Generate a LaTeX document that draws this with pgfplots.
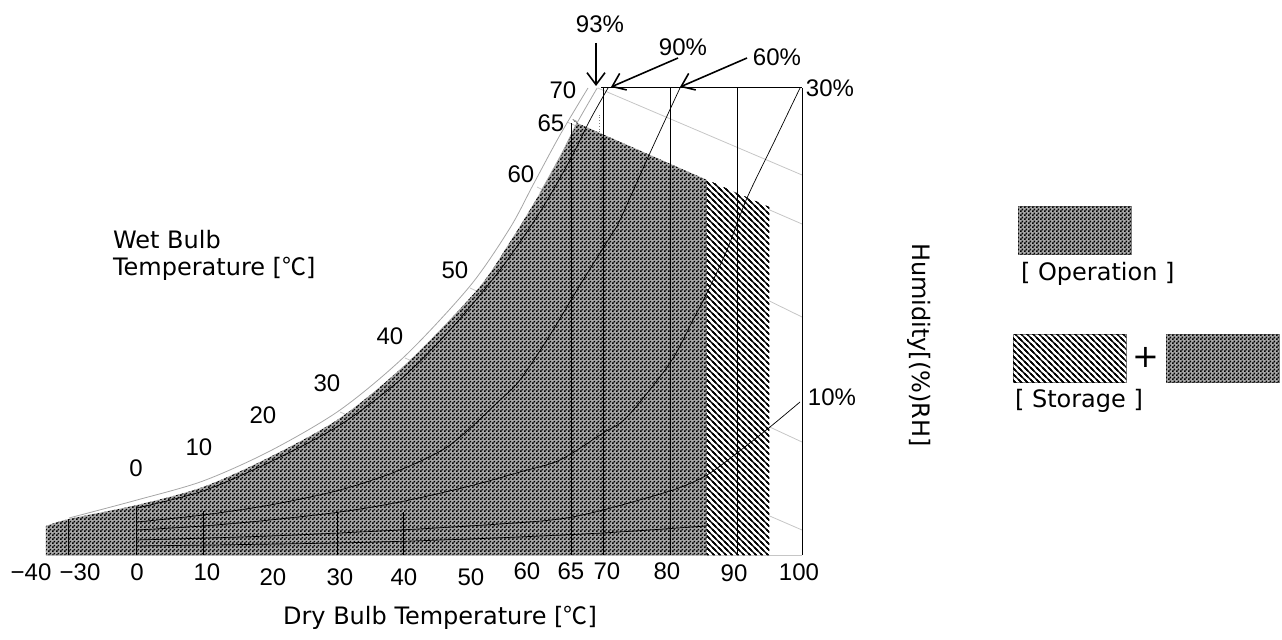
\documentclass[border=0pt]{standalone}
\usepackage{fontspec}
\setmainfont{DejaVu Sans}
\newfontfamily\numfont{Liberation Sans}
\newfontfamily\cjk{Noto Sans CJK KR}
\usepackage{pgfplots}
\pgfplotsset{compat=1.18}
\usetikzlibrary{patterns,arrows.meta}

% fine checkerboard for the operation area
\pgfdeclarepatternformonly{checker}{\pgfpointorigin}{\pgfqpoint{2pt}{2pt}}{\pgfqpoint{2pt}{2pt}}{%
  \pgfpathrectangle{\pgfpointorigin}{\pgfqpoint{1pt}{1pt}}%
  \pgfpathrectangle{\pgfqpoint{1pt}{1pt}}{\pgfqpoint{1pt}{1pt}}%
  \pgfusepath{fill}}
% dense diagonal hatch for the storage area
\pgfdeclarepatternformonly{hatchnw}{\pgfqpoint{-1pt}{-1pt}}{\pgfqpoint{4pt}{4pt}}{\pgfqpoint{3pt}{3pt}}{%
  \pgfsetlinewidth{0.6pt}%
  \pgfpathmoveto{\pgfqpoint{-1pt}{4pt}}\pgfpathlineto{\pgfqpoint{4pt}{-1pt}}%
  \pgfpathmoveto{\pgfqpoint{-1pt}{1pt}}\pgfpathlineto{\pgfqpoint{1pt}{-1pt}}%
  \pgfpathmoveto{\pgfqpoint{2pt}{4pt}}\pgfpathlineto{\pgfqpoint{4pt}{2pt}}%
  \pgfusepath{stroke}}
\colorlet{opbase}{black!34}

\begin{document}
\begin{tikzpicture}
\useasboundingbox (0,0) rectangle (641pt,319.5pt);
% x: dry bulb (compressed below 0), y: chart height
\begin{axis}[
  at={(23pt,42pt)}, anchor=south west,
  scale only axis, width=378pt, height=233.5pt,
  xmin=-13.684, xmax=100, ymin=0, ymax=467,
  axis line style={draw=none}, xtick=\empty, ytick=\empty,
  clip=false,
]
% wet bulb lines
\addplot[gray!45, line width=0.4pt] coordinates {(69.3,467) (100,380)};
\addplot[gray!45, line width=0.4pt] coordinates {(64.66,433) (100,331)};
\addplot[gray!45, line width=0.4pt] coordinates {(60.15,368) (100,238)};
\addplot[gray!45, line width=0.4pt] coordinates {(50.08,267) (100,113)};
\addplot[gray!45, line width=0.4pt] coordinates {(40.30,197) (100,25)};
\addplot[gray!45, line width=0.4pt] coordinates {(30.53,143) (80,0)};
\addplot[gray!45, line width=0.4pt] coordinates {(-13.684,0) (100,0)};

% operation area
\addplot[draw=none, fill=opbase, postaction={pattern=checker}, smooth, tension=0.5] coordinates {
  (-13.684,29) (-10.23,36) (0,50) (9.925,68) (20,98) (30.53,137) (40.60,192)
  (51.13,265) (56.09,313) (60.60,362) (63.91,402) (66.17,432) (66.8,430.2) (85.71,375)
} \closedcycle;
% storage area
\addplot[draw=none, fill=white, postaction={pattern=hatchnw}] coordinates {
  (85.71,375) (95.04,348)
} \closedcycle;

% saturation curves (gray)
\addplot[gray!70, line width=0.4pt, smooth] coordinates {
  (-10.23,37) (0,55) (9.925,74) (20,104) (30.53,145) (40.30,199) (50.08,269)
  (56.09,327) (59.55,370) (63.61,420) (67.82,467)
};
\addplot[gray!70, line width=0.4pt, smooth] coordinates {
  (60.60,362) (63.91,402) (66.17,432) (69.2,467)
};

% relative humidity curves
\addplot[black, line width=0.35pt, smooth] coordinates {
  (0,47) (9.925,64) (20,93) (30.53,130) (39.55,175) (47.07,225) (54.59,285)
  (60.60,343) (65.11,395) (68.12,435) (70.83,467)
};
\addplot[black, line width=0.35pt, smooth] coordinates {
  (0,33) (9.925,40) (20,50) (30.53,65) (39.55,85) (47.07,110) (54.59,155)
  (57.59,175) (62.11,220) (66.62,270) (71.13,318) (72.63,335) (77.14,402) (81.65,467)
};
\addplot[black, line width=0.35pt, smooth] coordinates {
  (0,25) (9.925,29) (20,35) (30.53,43) (39.55,53) (50.08,69) (57.59,83) (63.61,95)
  (70.08,122) (73.68,138) (80.15,192) (83.61,235) (85.71,262) (88.72,305)
  (91.73,357) (95.94,415) (99.70,467)
};
\addplot[black, line width=0.35pt, smooth] coordinates {
  (0,15) (20,19) (39.55,25) (54.59,31) (63.61,36) (70.08,45) (80.6,65)
  (85.71,80) (90.23,102) (95.19,128) (99.7,153)
};
\addplot[black, line width=0.35pt, smooth] coordinates {
  (0,9) (30,12) (50,16) (70,22) (85.5,29)
};

% dry bulb lines
\addplot[black, line width=0.5pt] coordinates {(-10.23,0) (-10.23,36)};
\addplot[black, line width=0.5pt] coordinates {(0,0) (0,47)};
\addplot[black, line width=0.5pt] coordinates {(9.925,0) (9.925,44)};
\addplot[black, line width=0.5pt] coordinates {(30.08,0) (30.08,43)};
\addplot[black, line width=0.5pt] coordinates {(40.15,0) (40.15,43)};
\addplot[black, line width=0.5pt] coordinates {(65.41,0) (65.41,432)};
\addplot[gray, line width=0.4pt, densely dotted] coordinates {(69.6,0) (69.6,440)};
\addplot[black, line width=0.5pt] coordinates {(70.08,0) (70.08,467)};
\addplot[black, line width=0.5pt] coordinates {(80.15,0) (80.15,467)};
\addplot[black, line width=0.5pt] coordinates {(90.23,0) (90.23,467)};
\addplot[black, line width=0.5pt] coordinates {(100,0) (100,467)};
\addplot[black, line width=0.5pt] coordinates {(69.8,467) (100,467)};
\end{axis}

% annotations in reference pixel units
\begin{scope}[x=0.5pt, y=-0.5pt, yshift=319.5pt, font=\fontsize{12}{14}\selectfont]
\begin{scope}[font=\numfont\fontsize{12}{14}\selectfont]
\node at (31,572) {−40};
\node at (80,572) {−30};
\node at (137,572) {0};
\node at (207,572) {10};
\node at (273,577) {20};
\node at (340,577) {30};
\node at (404,577) {40};
\node at (471,577) {50};
\node at (527,571) {60};
\node at (571,571) {65};
\node at (607,571) {70};
\node at (667,571) {80};
\node at (734,573) {90};
\node at (799,572) {100};
% wet bulb values
\node at (136,468) {0};
\node at (199,447) {10};
\node at (263,415) {20};
\node at (327,383) {30};
\node at (390,336) {40};
\node at (455,270) {50};
\node at (521,174) {60};
\node at (551,123) {65};
\node at (563,90) {70};
% humidity values
\node at (600,24) {93\%};
\node at (683,47) {90\%};
\node at (777,57) {60\%};
\node at (830,88) {30\%};
\node at (832,397) {10\%};
\end{scope}
\draw[line width=0.8pt, -{Straight Barb[length=6pt,width=9pt]}] (596,43) -- (596,86);
\draw[line width=0.8pt, -{Straight Barb[length=6pt,width=9pt]}] (678,58) -- (611,87);
\draw[line width=0.8pt, -{Straight Barb[length=6pt,width=9pt]}] (747,58) -- (680,87);

\node[anchor=west] at (106,240) {Wet Bulb};
\node[anchor=west] at (106,269) {Temperature [{\cjk ℃}]};
\node at (440,618) {Dry Bulb Temperature [{\cjk ℃}]};
\node[rotate=-90] at (919,345) {Humidity[(\%)RH]};

% legend
\draw[gray, line width=0.4pt, fill=opbase, postaction={pattern=checker}] (1018,206) rectangle (1131,254);
\node[anchor=west] at (1014,274) {[ Operation ]};
\draw[gray, line width=0.4pt, fill=white, postaction={pattern=hatchnw}] (1013,334) rectangle (1126,382);
\node[font=\fontsize{16}{16}\selectfont] at (1146,357) {+};
\draw[gray, line width=0.4pt, fill=opbase, postaction={pattern=checker}] (1166,334) rectangle (1279,382);
\node[anchor=west] at (1008,401) {[ Storage ]};
\end{scope}
\end{tikzpicture}
\end{document}
